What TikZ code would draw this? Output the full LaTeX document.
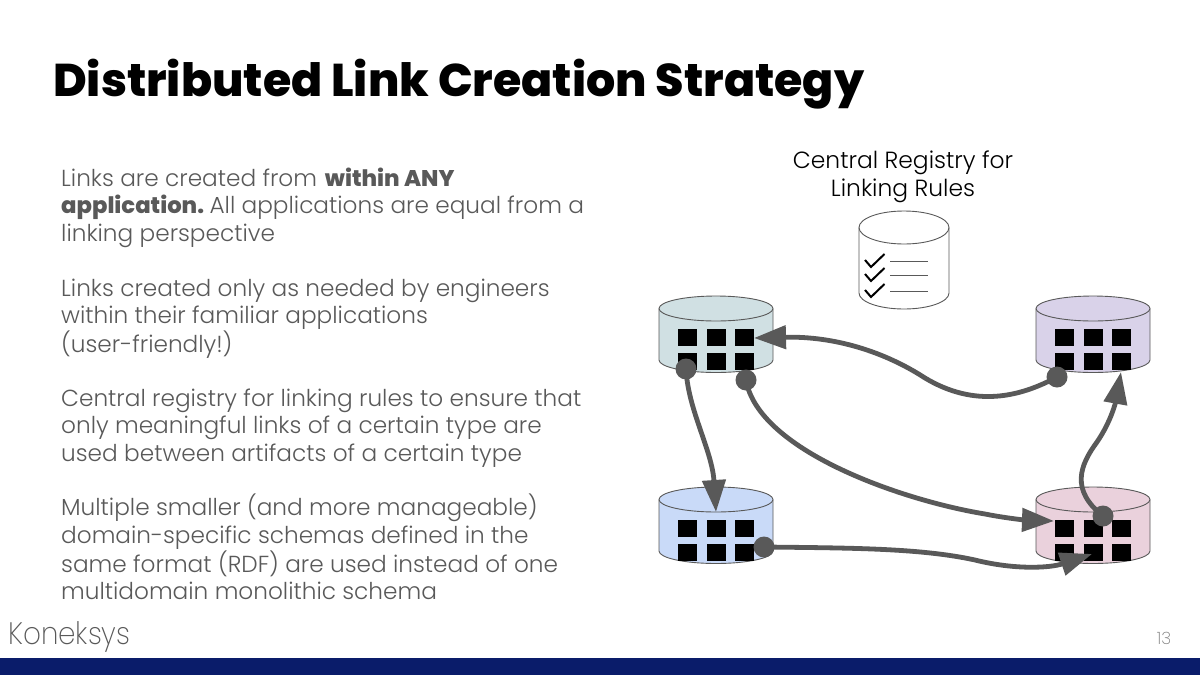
\documentclass[tikz,border=0pt]{standalone}
\usepackage{fontspec}
\usetikzlibrary{arrows.meta}
\setmainfont{Poppins}
\newfontfamily\lightfont{Poppins Light}
\newfontfamily\thinfont{Poppins ExtraLight}
\newfontfamily\heavyfont{Poppins ExtraBold}
\definecolor{bodygray}{HTML}{595959}
\definecolor{navy}{HTML}{0A1C6A}
\definecolor{tealc}{HTML}{D0E0E3}
\definecolor{purplec}{HTML}{D9D2E9}
\definecolor{bluec}{HTML}{C9DAF8}
\definecolor{pinkc}{HTML}{EAD1DC}
\tikzset{
  x=1pt,y=-1pt,
  bodytext/.style={anchor=north west,inner sep=0,align=left,text=bodygray,font=\lightfont\fontsize{23.2}{27.5}\selectfont},
  dot/.style={circle,fill=bodygray,draw=none,minimum size=21pt,inner sep=0},
  link/.style={draw=bodygray,line width=4.8pt,-{Triangle[length=32pt,width=23pt]}},
  sq/.style={fill=black,draw=none},
  cyl/.style={draw=bodygray,line width=0.9pt},
}
\newcommand{\dbcyl}[3]{% x-left, y-top, colour
  \filldraw[cyl,fill=#3] (#1,#2+12.5) -- (#1,#2+64) arc[start angle=180,end angle=0,x radius=57,y radius=12.5] -- (#1+114,#2+12.5) arc[start angle=0,end angle=-180,x radius=57,y radius=12.5] -- cycle;
  \draw[cyl] (#1,#2+12.5) arc[start angle=180,end angle=0,x radius=57,y radius=12.5];
  \foreach \dx in {19,47.5,76} \foreach \dy in {33,57}
    \fill[sq] (#1+\dx,#2+\dy) rectangle ++(19,17);
}
\newcommand{\heavytext}[1]{{\heavyfont\fontsize{22.7}{27.5}\selectfont #1}}
\begin{document}
\begin{tikzpicture}
\useasboundingbox (0,0) rectangle (1200,675);
\fill[white] (0,0) rectangle (1200,675);
\fill[navy] (0,657.5) rectangle (1200,675);
\node[anchor=base west,inner sep=0,font=\heavyfont\fontsize{45.9}{50}\selectfont] (title) at (53,96) {Distributed Link Creation Strategy};
\node[bodytext] (p1) at (61,167.5) {Links are created from \hspace{1.5pt}\heavytext{within ANY}\\\heavytext{application.}\hspace{-3pt} All applications are equal from a\\linking perspective};
\node[bodytext] (p2) at (61,278.5) {Links created only as needed by engineers\\within their familiar applications\\(user-friendly!)};
\node[bodytext] (p3) at (61,388.5) {Central registry for linking rules to ensure that\\only meaningful links of a certain type are\\used between artifacts of a certain type};
\node[bodytext] (p4) at (61,494) {Multiple smaller (and more manageable)\\domain-specific schemas defined in the\\same format (RDF) are used instead of one\\multidomain monolithic schema};
\node[anchor=center,inner sep=0,align=center,font=\lightfont\fontsize{23.4}{28}\selectfont] (reg) at (903,177) {Central Registry for\\Linking Rules};
\node[anchor=base west,inner sep=0,text=bodygray,font=\thinfont\fontsize{31}{34}\selectfont] (logo) at (8,644) {\scalebox{0.9}[1]{Koneksys}};
\node[anchor=center,inner sep=0,text=bodygray!80,font=\thinfont\fontsize{17}{18}\selectfont] (page) at (1164,638) {13};
% registry
\filldraw[cyl,fill=white] (859,227.5) -- (859,293) arc[start angle=180,end angle=0,x radius=45,y radius=16] -- (949,227.5) arc[start angle=0,end angle=-180,x radius=45,y radius=16.5] -- cycle;
\draw[cyl] (859,227.5) arc[start angle=180,end angle=0,x radius=45,y radius=16.5];
\foreach \y/\ly in {254/261,268/275,284/291}{
  \draw[black,line width=2pt] (865,\y+6) -- (871,\y+13) -- (884.5,\y);
  \draw[bodygray,line width=0.9pt] (890,\ly) -- (928,\ly);
}
% databases
\dbcyl{659}{296}{tealc}
\dbcyl{1036}{296}{purplec}
\dbcyl{659}{487}{bluec}
\dbcyl{1036}{487}{pinkc}
% connector ends
\node[dot] (da) at (686,369) {};
\node[dot] (db) at (746,380) {};
\node[dot] (dp) at (1057,377) {};
\node[dot] (dl) at (764,547) {};
\node[dot] (dk) at (1103,516) {};
\coordinate (ta) at (754,338);
\coordinate (tb) at (716,512);
\coordinate (tc) at (1054,521);
\coordinate (td) at (1092,554);
\coordinate (te) at (1121,372);
% links
\draw[link] (dp.center) .. controls (1020,397) and (975,408) .. (925,378) .. controls (885,352) and (835,336) .. (ta);
\draw[link] (da.center) .. controls (688,410) and (712,450) .. (tb);
\draw[link] (db.center) .. controls (758,450) and (900,500) .. (985,514) .. controls (1005,518) and (1025,520) .. (tc);
\draw[link] (dl.center) .. controls (850,548) and (920,548) .. (975,560) .. controls (1015,570) and (1050,568) .. (td);
\draw[link] (dk.center) .. controls (1070,490) and (1080,465) .. (1097,442) .. controls (1112,420) and (1116,400) .. (te);
\end{tikzpicture}
\end{document}
